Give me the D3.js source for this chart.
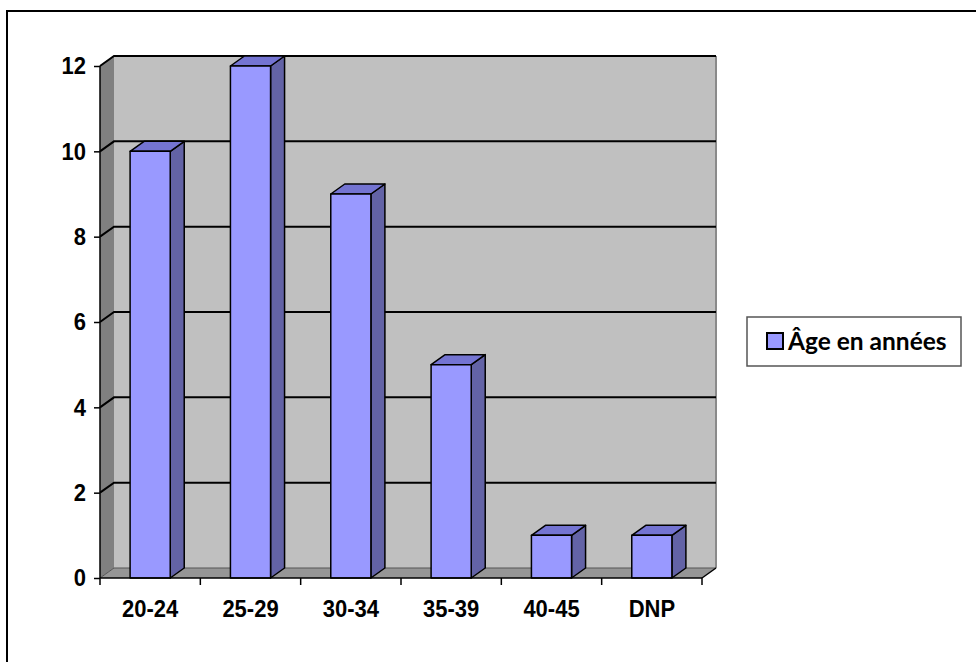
<!DOCTYPE html>
<html>
<head>
<meta charset="utf-8">
<script src="https://cdn.jsdelivr.net/npm/d3@7"></script>
<style>
  html, body { margin: 0; padding: 0; background: #fff; }
  svg { display: block; }
</style>
</head>
<body>
<script>
// Age groups and counts
const categories = ["20-24", "25-29", "30-34", "35-39", "40-45", "DNP"];
const counts = [10, 12, 9, 5, 1, 1];
const yTicks = [0, 2, 4, 6, 8, 10, 12];
const seriesName = "Âge en années";

const W = 976, H = 662;
const svg = d3.select("body").append("svg").attr("width", W).attr("height", H);

// Outer frame (right and bottom edges fall outside the view)
svg.append("rect").attr("x", 7).attr("y", 11).attr("width", W + 20).attr("height", H + 20)
  .attr("fill", "#fff").attr("stroke", "#000").attr("stroke-width", 2);

// Oblique depth of the 3D box
const dx = 14, dy = 10;

const x = d3.scaleBand().domain(categories).range([100, 702]).paddingInner(0).paddingOuter(0);
const y = d3.scaleLinear().domain([0, 12]).range([578, 66]);

const x0 = x.range()[0], x1 = x.range()[1];
const yb = y(0), yt = y(12);
const pts = a => a.map(p => p.join(",")).join(" ");

// Back wall
svg.append("polygon")
  .attr("points", pts([[x0 + dx, yt - dy], [x1 + dx, yt - dy], [x1 + dx, yb - dy], [x0 + dx, yb - dy]]))
  .attr("fill", "#c0c0c0");
// Left wall
svg.append("polygon")
  .attr("points", pts([[x0, yt], [x0 + dx, yt - dy], [x0 + dx, yb - dy], [x0, yb]]))
  .attr("fill", "#808080");
// Floor
svg.append("polygon")
  .attr("points", pts([[x0, yb], [x0 + dx, yb - dy], [x1 + dx, yb - dy], [x1, yb]]))
  .attr("fill", "#969696");

// Back wall right edge
svg.append("line").attr("x1", x1 + dx).attr("x2", x1 + dx).attr("y1", yt - dy).attr("y2", yb - dy)
  .attr("stroke", "#8a8a8a").attr("stroke-width", 2);

// Gridlines across left wall and back wall
const grid = svg.append("g");
yTicks.forEach(t => {
  grid.append("polyline")
    .attr("points", pts([[x0, y(t)], [x0 + dx, y(t) - dy], [x1 + dx, y(t) - dy]]))
    .attr("fill", "none").attr("stroke", t === 0 ? "#555" : "#000")
    .attr("stroke-width", t === 0 ? 1 : 2);
});
// Floor right edge
svg.append("line").attr("x1", x1).attr("y1", yb).attr("x2", x1 + dx).attr("y2", yb - dy)
  .attr("stroke", "#000").attr("stroke-width", 1.5);

// Bars
const bw = x.bandwidth() * 0.4;
const bars = svg.append("g");
categories.forEach((c, i) => {
  const bx = x(c) + (x.bandwidth() - bw) / 2;
  const yv = y(counts[i]);
  const g = bars.append("g").attr("stroke", "#000").attr("stroke-width", 1.5).attr("stroke-linejoin", "round");
  g.append("polygon")
    .attr("points", pts([[bx + bw, yv], [bx + bw + dx, yv - dy], [bx + bw + dx, yb - dy], [bx + bw, yb]]))
    .attr("fill", "#6363a6");
  g.append("polygon")
    .attr("points", pts([[bx, yv], [bx + dx, yv - dy], [bx + bw + dx, yv - dy], [bx + bw, yv]]))
    .attr("fill", "#7474d2");
  g.append("rect").attr("x", bx).attr("y", yv).attr("width", bw).attr("height", yb - yv)
    .attr("fill", "#9999ff");
});

// Axis labels are drawn slightly tall
const stretch = 1.1;

const yAxis = d3.axisLeft(y).tickValues(yTicks).tickSize(6).tickPadding(8).tickFormat(d3.format("d"));
const gy = svg.append("g").attr("transform", `translate(${x0},0)`).call(yAxis);
gy.select(".domain").attr("stroke", "#000").attr("stroke-width", 1.5).attr("d", `M0,${yt}V${yb}`);
gy.selectAll(".tick line").attr("stroke", "#000").attr("stroke-width", 1.5);
gy.selectAll(".tick text")
  .attr("font-family", "Liberation Sans, Arial, sans-serif").attr("font-weight", "bold")
  .attr("font-size", 22).attr("fill", "#000")
  .attr("transform", `scale(1,${stretch})`);

const xAxis = d3.axisBottom(x).tickSize(0).tickPadding(20);
const gx = svg.append("g").attr("transform", `translate(0,${yb})`).call(xAxis);
gx.select(".domain").attr("stroke", "#000").attr("stroke-width", 1.5).attr("d", `M${x0},0H${x1}`);
gx.selectAll(".tick text")
  .attr("font-family", "Liberation Sans, Arial, sans-serif").attr("font-weight", "bold")
  .attr("font-size", 22).attr("fill", "#000")
  .attr("transform", `scale(1,${stretch})`);
// Category separator ticks
const bounds = categories.map(c => x(c)).concat([x1]);
gx.selectAll("line.sep").data(bounds).join("line").attr("class", "sep")
  .attr("x1", d => d).attr("x2", d => d).attr("y1", 0).attr("y2", 7)
  .attr("stroke", "#000").attr("stroke-width", 1.5);

// Legend
const lg = svg.append("g");
lg.append("rect").attr("x", 747).attr("y", 317).attr("width", 214).attr("height", 49)
  .attr("fill", "#fff").attr("stroke", "#555").attr("stroke-width", 1.5);
lg.append("rect").attr("x", 767).attr("y", 333).attr("width", 16).attr("height", 16)
  .attr("fill", "#9999ff").attr("stroke", "#000").attr("stroke-width", 2);
lg.append("text").attr("x", 788).attr("y", 349.5)
  .attr("font-family", "Lato, 'Open Sans', sans-serif").attr("font-weight", "bold")
  .attr("font-size", 24.5).attr("fill", "#000").text(seriesName);
</script>
</body>
</html>
